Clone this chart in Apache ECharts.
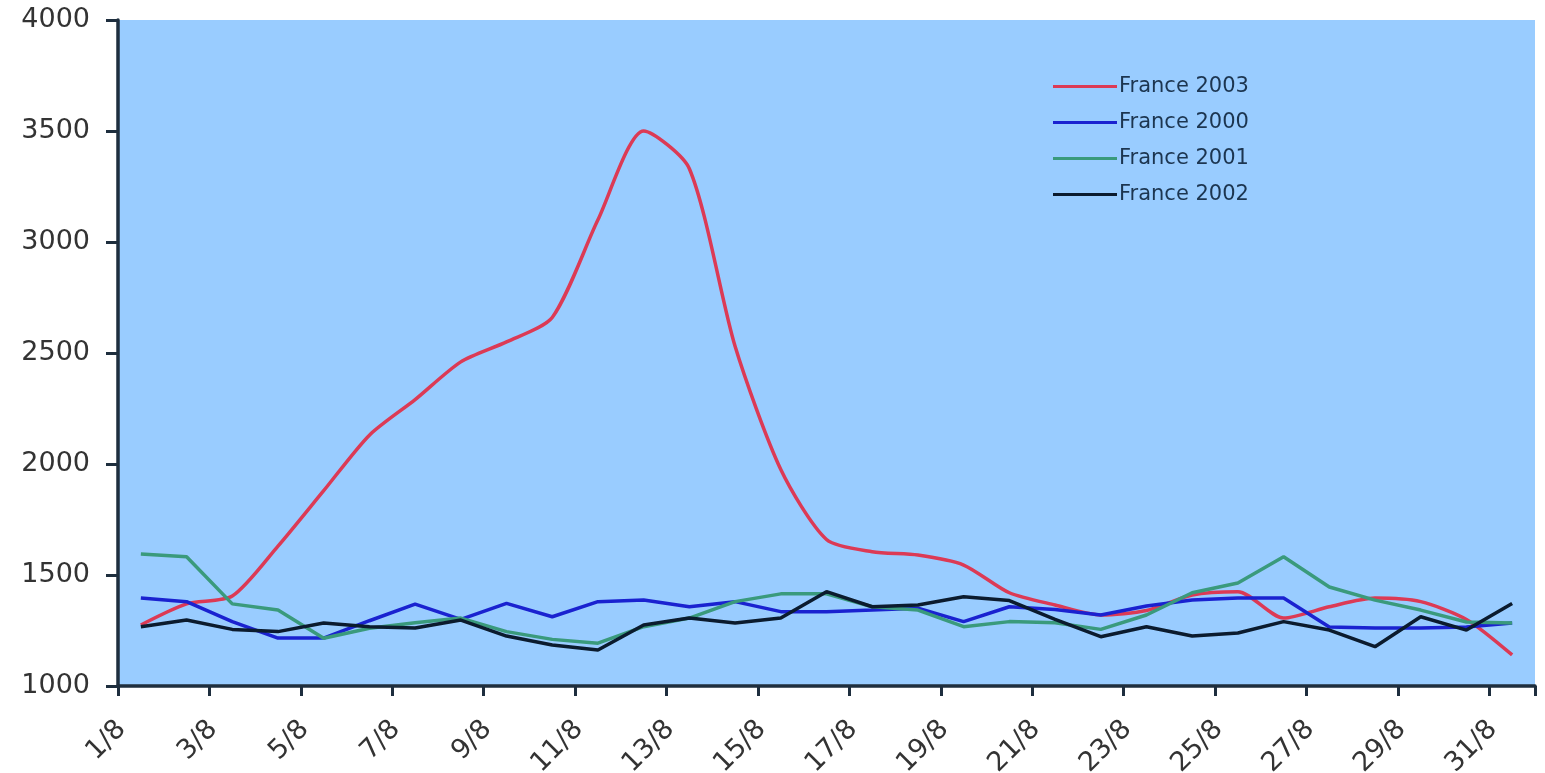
<!DOCTYPE html>
<html>
<head>
<meta charset="utf-8">
<script src="https://cdn.jsdelivr.net/npm/echarts@6/dist/echarts.min.js"></script>
<style>
html,body{margin:0;padding:0;background:#fff;}
#chart{width:1545px;height:773px;}
</style>
</head>
<body>
<div id="chart"></div>
<script>
const days = ['1/8','2/8','3/8','4/8','5/8','6/8','7/8','8/8','9/8','10/8','11/8','12/8','13/8','14/8','15/8','16/8','17/8','18/8','19/8','20/8','21/8','22/8','23/8','24/8','25/8','26/8','27/8','28/8','29/8','30/8','31/8'];
const yTicks = [1000, 1500, 2000, 2500, 3000, 3500, 4000];
const seriesNames = ['France 2003', 'France 2000', 'France 2001', 'France 2002'];
const france2003 = [1275,1370,1405,1630,1880,2130,2290,2460,2550,2660,3100,3500,3330,2530,1975,1660,1605,1590,1545,1420,1365,1320,1340,1410,1425,1306,1357,1396,1380,1300,1140];
const france2000 = [1396,1380,1290,1216,1216,1294,1369,1300,1372,1312,1380,1387,1357,1380,1335,1335,1342,1350,1290,1357,1345,1320,1360,1387,1396,1396,1266,1261,1261,1266,1284];
const france2001 = [1595,1582,1370,1342,1215,1260,1285,1306,1245,1210,1193,1267,1306,1380,1415,1415,1357,1342,1267,1290,1285,1255,1320,1420,1464,1582,1446,1387,1342,1288,1284];
const france2002 = [1267,1297,1255,1245,1284,1267,1261,1297,1225,1185,1162,1275,1306,1284,1306,1425,1357,1365,1402,1385,1300,1222,1267,1225,1239,1290,1252,1177,1312,1252,1372];

const colors = ['#DC3A55', '#1A22D0', '#3A9A7C', '#0B1B2E'];
const dataSets = [france2003, france2000, france2001, france2002];
const smoothness = [0.25, 0, 0, 0];

const chart = echarts.init(document.getElementById('chart'));
const axisColor = '#1E2E3E';
chart.setOption({
  animation: false,
  backgroundColor: '#ffffff',
  grid: {
    left: 118, right: 10, top: 20, bottom: 87,
    containLabel: false, outerBoundsMode: 'none',
    show: true, backgroundColor: '#99CCFF', borderWidth: 0
  },
  legend: {
    orient: 'vertical',
    left: 1048, top: 71,
    itemWidth: 64, itemHeight: 3, itemGap: 15,
    icon: 'rect',
    data: seriesNames,
    textStyle: { fontFamily: 'DejaVu Sans', fontSize: 21, color: '#1C3550', padding: [0,0,0,-3] }
  },
  xAxis: {
    type: 'category',
    data: days,
    boundaryGap: true,
    axisLine: { lineStyle: { color: axisColor, width: 3.5 } },
    axisTick: { show: true, interval: 1, length: 10, lineStyle: { color: axisColor, width: 3 } },
    axisLabel: {
      interval: 1, rotate: 45, margin: 20,
      fontFamily: 'DejaVu Sans', fontSize: 27, color: '#333',
      padding: [0, 27, 0, 0]
    },
    splitLine: { show: false }
  },
  yAxis: {
    type: 'value',
    min: yTicks[0], max: yTicks[yTicks.length - 1], interval: 500,
    axisLine: { show: true, lineStyle: { color: axisColor, width: 3.5 } },
    axisTick: { show: true, length: 12, lineStyle: { color: axisColor, width: 3 } },
    axisLabel: { margin: 28, fontFamily: 'DejaVu Sans', fontSize: 27, color: '#333', formatter: v => String(v) },
    splitLine: { show: false }
  },
  series: seriesNames.map((n, i) => ({
    name: n,
    type: 'line',
    data: dataSets[i],
    showSymbol: false,
    symbol: 'none',
    smooth: smoothness[i],
    lineStyle: { color: colors[i], width: 3.5 },
    itemStyle: { color: colors[i] },
    z: 2 + i
  }))
});
</script>
</body>
</html>
